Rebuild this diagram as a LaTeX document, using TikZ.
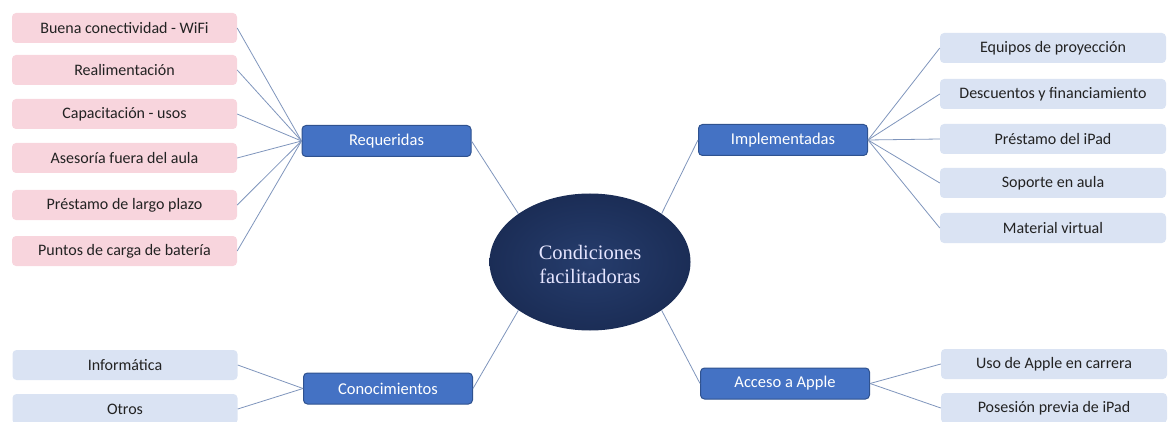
\documentclass[tikz,border=0pt]{standalone}
\usepackage{fontspec}
\setmainfont{Carlito}
\newfontfamily\serifc{Liberation Serif}
\usetikzlibrary{shapes.geometric}
\definecolor{pinkbox}{HTML}{F8D5DD}
\definecolor{lightbox}{HTML}{DAE3F3}
\definecolor{bluebox}{HTML}{4472C4}
\definecolor{blueedge}{HTML}{2F528F}
\definecolor{linkc}{HTML}{7F95BC}
\definecolor{navyin}{HTML}{263D6D}
\definecolor{navyout}{HTML}{1B2D56}
\definecolor{txt}{HTML}{222222}
\begin{document}
\begin{tikzpicture}[x=1pt,y=-1pt,
  leafp/.style={fill=pinkbox,rounded corners=4pt,minimum width=225pt,minimum height=30pt,inner sep=0pt,text=txt,font=\fontsize{16}{18}\selectfont},
  leafb/.style={leafp,fill=lightbox,minimum width=226pt},
  hub/.style={fill=bluebox,draw=blueedge,line width=1pt,rounded corners=4pt,minimum width=169pt,minimum height=31pt,inner sep=0pt,text=white,font=\fontsize{16.5}{18}\selectfont},
  link/.style={draw=linkc,line width=0.8pt}]
\useasboundingbox (0,0) rectangle (1172,422);
% center
\node[ellipse,minimum width=201pt,minimum height=137pt,inner sep=0pt,inner color=navyin,outer color=navyout] (c) at (590,262) {};
\node[text=white!90!blue,align=center,font=\serifc\fontsize{20.5}{24}\selectfont] (ct) at (590,264) {Condiciones\\facilitadoras};
% hubs
\node[hub] (req) at (386.5,141) {Requeridas};
\node[hub] (imp) at (783,140) {Implementadas};
\node[hub] (con) at (388,388.5) {Conocimientos};
\node[hub] (acc) at (785,383.5) {Acceso a Apple};
% left leaves
\node[leafp] (l1) at (124.5,28) {Buena conectividad - WiFi};
\node[leafp] (l2) at (124.5,70) {Realimentación};
\node[leafp] (l3) at (124.5,114) {Capacitación - usos};
\node[leafp] (l4) at (124.5,158) {Asesoría fuera del aula};
\node[leafp] (l5) at (124.5,205) {Préstamo de largo plazo};
\node[leafp] (l6) at (124.5,251) {Puntos de carga de batería};
% right leaves
\node[leafb] (r1) at (1053,48) {Equipos de proyección};
\node[leafb] (r2) at (1053,94) {Descuentos y financiamiento};
\node[leafb] (r3) at (1053,139) {Préstamo del iPad};
\node[leafb] (r4) at (1053,183) {Soporte en aula};
\node[leafb] (r5) at (1053,228) {Material virtual};
% bottom leaves
\node[leafb,minimum width=225pt] (b1) at (125,365) {Informática};
\node[leafb,minimum width=225pt] (b2) at (125,409) {Otros};
\node[leafb] (b3) at (1054,364) {Uso de Apple en carrera};
\node[leafb] (b4) at (1054,408) {Posesión previa de iPad};
% connectors
\foreach \n in {l1,l2,l3,l4,l5,l6} \draw[link] (\n.east) -- (req.west);
\foreach \n in {r1,r2,r3,r4,r5} \draw[link] (imp.east) -- (\n.west);
\foreach \n in {b1,b2} \draw[link] (\n.east) -- (con.west);
\foreach \n in {b3,b4} \draw[link] (acc.east) -- (\n.west);
\draw[link] (req.east) -- (c.146);
\draw[link] (imp.west) -- (c.34);
\draw[link] (con.east) -- (c.214);
\draw[link] (acc.west) -- (c.326);
\end{tikzpicture}
\end{document}
